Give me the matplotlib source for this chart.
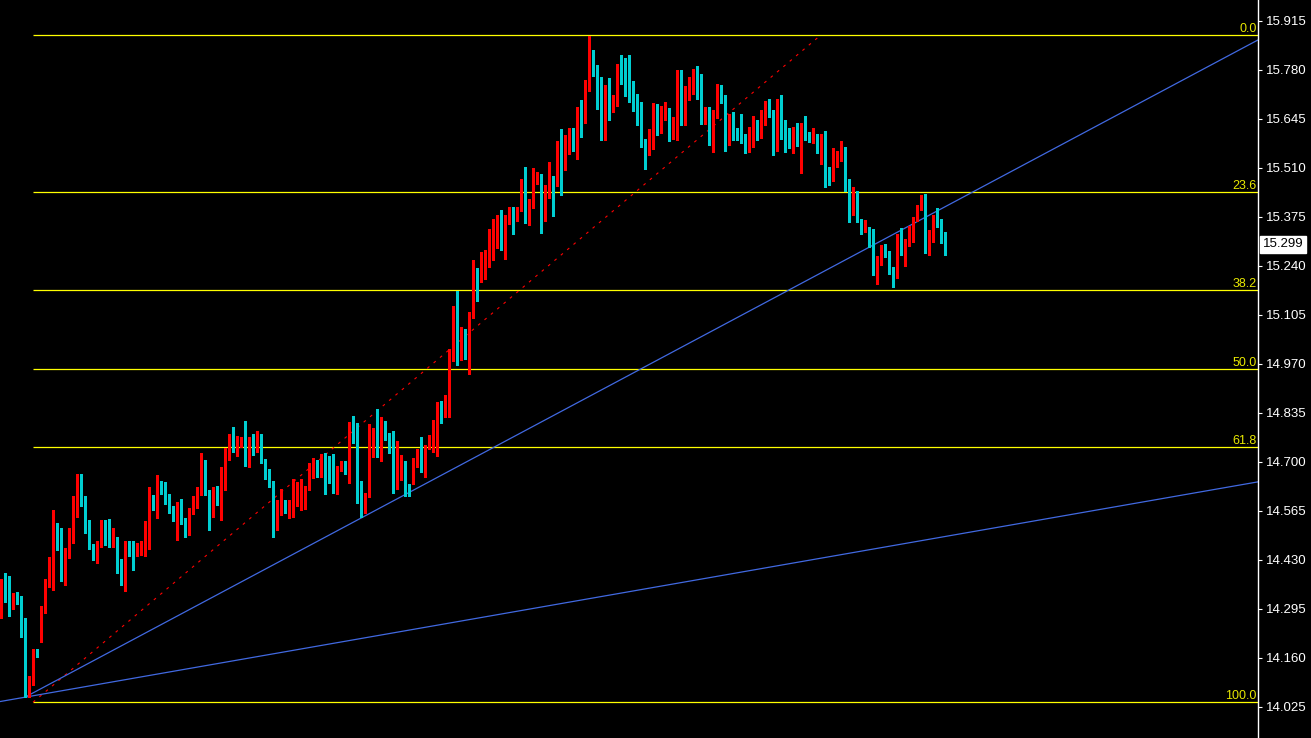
import numpy as np
import matplotlib
matplotlib.use("Agg")
import matplotlib.pyplot as plt
import matplotlib.transforms as mtransforms

# OHLC values (one entry per bar, left to right)
opens = [
    14.313, 14.351, 14.354, 14.315, 14.333, 14.323, 14.257, 14.062, 14.097, 14.177,
    14.254, 14.287, 14.364, 14.372, 14.482, 14.479, 14.384, 14.443, 14.502, 14.557,
    14.639, 14.592, 14.523, 14.466, 14.463, 14.471, 14.504, 14.501, 14.479, 14.485,
    14.400, 14.361, 14.471, 14.460, 14.447, 14.457, 14.464, 14.508, 14.585, 14.581,
    14.636, 14.625, 14.601, 14.565, 14.540, 14.579, 14.534, 14.501, 14.559, 14.590,
    14.612, 14.694, 14.614, 14.551, 14.609, 14.587, 14.658, 14.730, 14.755, 14.741,
    14.744, 14.760, 14.698, 14.747, 14.741, 14.749, 14.702, 14.661, 14.636, 14.515,
    14.556, 14.587, 14.570, 14.573, 14.581, 14.612, 14.617, 14.628, 14.658, 14.686,
    14.661, 14.716, 14.696, 14.650, 14.623, 14.680, 14.686, 14.672, 14.779, 14.757,
    14.595, 14.584, 14.607, 14.749, 14.782, 14.724, 14.785, 14.773, 14.760, 14.635,
    14.665, 14.686, 14.634, 14.667, 14.707, 14.727, 14.680, 14.740, 14.749, 14.797,
    14.855, 14.849, 14.860, 15.005, 15.110, 15.000, 15.025, 14.990, 15.097, 15.228,
    15.212, 15.226, 15.245, 15.314, 15.336, 15.372, 15.306, 15.372, 15.399, 15.391,
    15.394, 15.446, 15.396, 15.402, 15.474, 15.482, 15.380, 15.435, 15.474, 15.463,
    15.559, 15.507, 15.562, 15.614, 15.595, 15.655, 15.642, 15.732, 15.821, 15.776,
    15.702, 15.597, 15.716, 15.672, 15.732, 15.771, 15.763, 15.763, 15.724, 15.702,
    15.655, 15.581, 15.562, 15.606, 15.666, 15.622, 15.655, 15.669, 15.603, 15.622,
    15.738, 15.683, 15.721, 15.727, 15.741, 15.727, 15.666, 15.675, 15.592, 15.653,
    15.719, 15.699, 15.581, 15.653, 15.609, 15.609, 15.589, 15.578, 15.597, 15.628,
    15.609, 15.644, 15.683, 15.661, 15.562, 15.694, 15.614, 15.611, 15.578, 15.589,
    15.573, 15.625, 15.597, 15.592, 15.600, 15.551, 15.592, 15.496, 15.476, 15.520,
    15.531, 15.559, 15.471, 15.402, 15.427, 15.366, 15.336, 15.344, 15.325, 15.239,
    15.245, 15.297, 15.270, 15.223, 15.212, 15.308, 15.275, 15.300, 15.336, 15.366,
    15.399, 15.410, 15.300, 15.319, 15.369, 15.358, 15.328,
]
highs = [
    14.377, 14.394, 14.386, 14.340, 14.341, 14.331, 14.270, 14.110, 14.185, 14.185,
    14.304, 14.377, 14.437, 14.567, 14.532, 14.518, 14.463, 14.518, 14.606, 14.667,
    14.667, 14.606, 14.540, 14.474, 14.482, 14.540, 14.540, 14.543, 14.518, 14.494,
    14.432, 14.482, 14.482, 14.482, 14.477, 14.482, 14.537, 14.632, 14.610, 14.664,
    14.647, 14.645, 14.612, 14.578, 14.590, 14.598, 14.545, 14.573, 14.606, 14.631,
    14.724, 14.705, 14.623, 14.631, 14.634, 14.686, 14.738, 14.777, 14.796, 14.771,
    14.769, 14.813, 14.769, 14.777, 14.785, 14.777, 14.708, 14.680, 14.647, 14.595,
    14.625, 14.595, 14.595, 14.653, 14.645, 14.653, 14.634, 14.697, 14.711, 14.705,
    14.722, 14.725, 14.716, 14.722, 14.689, 14.702, 14.702, 14.810, 14.826, 14.807,
    14.648, 14.614, 14.804, 14.794, 14.846, 14.823, 14.812, 14.780, 14.784, 14.758,
    14.719, 14.702, 14.639, 14.711, 14.736, 14.769, 14.747, 14.774, 14.815, 14.865,
    14.868, 14.884, 15.012, 15.129, 15.171, 15.071, 15.066, 15.114, 15.256, 15.234,
    15.278, 15.284, 15.341, 15.369, 15.380, 15.394, 15.380, 15.402, 15.402, 15.402,
    15.479, 15.512, 15.424, 15.509, 15.498, 15.493, 15.463, 15.526, 15.487, 15.584,
    15.617, 15.600, 15.620, 15.620, 15.677, 15.697, 15.752, 15.873, 15.834, 15.793,
    15.760, 15.738, 15.757, 15.710, 15.796, 15.821, 15.812, 15.821, 15.749, 15.713,
    15.691, 15.589, 15.617, 15.688, 15.686, 15.680, 15.691, 15.675, 15.650, 15.779,
    15.779, 15.735, 15.760, 15.782, 15.790, 15.768, 15.677, 15.677, 15.669, 15.741,
    15.738, 15.710, 15.658, 15.664, 15.620, 15.658, 15.603, 15.622, 15.653, 15.642,
    15.669, 15.694, 15.699, 15.669, 15.699, 15.710, 15.642, 15.620, 15.622, 15.633,
    15.633, 15.653, 15.608, 15.620, 15.603, 15.603, 15.611, 15.512, 15.564, 15.556,
    15.584, 15.567, 15.479, 15.457, 15.446, 15.369, 15.366, 15.347, 15.341, 15.267,
    15.297, 15.300, 15.281, 15.237, 15.328, 15.344, 15.314, 15.350, 15.374, 15.407,
    15.435, 15.438, 15.339, 15.380, 15.399, 15.369, 15.333,
]
lows = [
    14.271, 14.313, 14.276, 14.296, 14.310, 14.219, 14.053, 14.053, 14.086, 14.163,
    14.204, 14.285, 14.355, 14.347, 14.457, 14.373, 14.361, 14.435, 14.477, 14.548,
    14.579, 14.505, 14.460, 14.430, 14.422, 14.466, 14.471, 14.466, 14.466, 14.393,
    14.361, 14.345, 14.441, 14.402, 14.441, 14.444, 14.441, 14.461, 14.568, 14.546,
    14.612, 14.584, 14.559, 14.537, 14.485, 14.529, 14.493, 14.499, 14.557, 14.573,
    14.609, 14.609, 14.512, 14.548, 14.581, 14.540, 14.623, 14.705, 14.727, 14.716,
    14.741, 14.689, 14.686, 14.719, 14.727, 14.697, 14.653, 14.631, 14.493, 14.512,
    14.554, 14.559, 14.545, 14.548, 14.579, 14.567, 14.570, 14.623, 14.656, 14.658,
    14.658, 14.612, 14.643, 14.615, 14.611, 14.676, 14.667, 14.643, 14.751, 14.588,
    14.549, 14.558, 14.604, 14.713, 14.713, 14.703, 14.760, 14.724, 14.614, 14.626,
    14.650, 14.606, 14.606, 14.639, 14.687, 14.673, 14.659, 14.735, 14.727, 14.717,
    14.807, 14.824, 14.824, 14.978, 14.967, 14.981, 14.983, 14.942, 15.096, 15.143,
    15.195, 15.204, 15.237, 15.256, 15.289, 15.284, 15.259, 15.355, 15.328, 15.363,
    15.391, 15.358, 15.352, 15.399, 15.465, 15.330, 15.363, 15.427, 15.377, 15.460,
    15.436, 15.504, 15.548, 15.556, 15.534, 15.595, 15.633, 15.721, 15.763, 15.672,
    15.586, 15.586, 15.642, 15.664, 15.680, 15.741, 15.708, 15.691, 15.666, 15.628,
    15.567, 15.507, 15.545, 15.562, 15.600, 15.606, 15.642, 15.584, 15.589, 15.586,
    15.628, 15.628, 15.697, 15.713, 15.699, 15.631, 15.631, 15.573, 15.553, 15.647,
    15.688, 15.556, 15.573, 15.586, 15.586, 15.578, 15.551, 15.553, 15.567, 15.586,
    15.592, 15.628, 15.650, 15.545, 15.556, 15.589, 15.553, 15.564, 15.551, 15.570,
    15.496, 15.586, 15.581, 15.578, 15.551, 15.520, 15.457, 15.463, 15.474, 15.512,
    15.529, 15.446, 15.361, 15.380, 15.361, 15.328, 15.333, 15.292, 15.215, 15.190,
    15.242, 15.264, 15.217, 15.182, 15.206, 15.270, 15.239, 15.295, 15.306, 15.363,
    15.394, 15.275, 15.270, 15.306, 15.347, 15.303, 15.270,
]
closes = [
    14.354, 14.345, 14.314, 14.333, 14.320, 14.254, 14.058, 14.102, 14.174, 14.172,
    14.289, 14.364, 14.372, 14.504, 14.475, 14.384, 14.449, 14.504, 14.559, 14.636,
    14.588, 14.521, 14.464, 14.461, 14.477, 14.504, 14.496, 14.479, 14.486, 14.397,
    14.364, 14.474, 14.455, 14.449, 14.460, 14.468, 14.512, 14.579, 14.579, 14.642,
    14.617, 14.598, 14.563, 14.540, 14.576, 14.532, 14.499, 14.562, 14.592, 14.614,
    14.697, 14.612, 14.554, 14.609, 14.587, 14.658, 14.730, 14.752, 14.741, 14.747,
    14.758, 14.694, 14.747, 14.741, 14.749, 14.702, 14.658, 14.634, 14.515, 14.559,
    14.590, 14.562, 14.576, 14.587, 14.612, 14.617, 14.628, 14.664, 14.686, 14.661,
    14.716, 14.691, 14.648, 14.621, 14.680, 14.685, 14.672, 14.782, 14.755, 14.595,
    14.584, 14.612, 14.753, 14.791, 14.724, 14.791, 14.767, 14.758, 14.634, 14.667,
    14.689, 14.632, 14.629, 14.708, 14.727, 14.680, 14.740, 14.749, 14.774, 14.851,
    14.849, 14.866, 15.005, 15.107, 15.000, 15.027, 14.990, 15.102, 15.226, 15.210,
    15.226, 15.250, 15.317, 15.339, 15.374, 15.303, 15.372, 15.396, 15.388, 15.396,
    15.443, 15.396, 15.402, 15.474, 15.493, 15.380, 15.435, 15.471, 15.463, 15.559,
    15.504, 15.567, 15.614, 15.595, 15.653, 15.642, 15.735, 15.823, 15.771, 15.699,
    15.597, 15.719, 15.672, 15.699, 15.771, 15.760, 15.757, 15.719, 15.699, 15.653,
    15.578, 15.562, 15.609, 15.664, 15.622, 15.661, 15.672, 15.600, 15.625, 15.741,
    15.683, 15.724, 15.730, 15.738, 15.727, 15.664, 15.675, 15.592, 15.655, 15.721,
    15.699, 15.578, 15.650, 15.606, 15.597, 15.586, 15.575, 15.603, 15.630, 15.609,
    15.650, 15.683, 15.661, 15.562, 15.691, 15.611, 15.609, 15.581, 15.589, 15.573,
    15.625, 15.592, 15.592, 15.597, 15.553, 15.592, 15.490, 15.479, 15.523, 15.534,
    15.559, 15.474, 15.402, 15.427, 15.363, 15.339, 15.341, 15.319, 15.242, 15.245,
    15.295, 15.270, 15.220, 15.212, 15.311, 15.272, 15.297, 15.336, 15.369, 15.405,
    15.410, 15.300, 15.319, 15.372, 15.355, 15.328, 15.299,
]

# Fibonacci retracement
fib_high = 15.876
fib_low = 14.038
fib_ratios = [0.0, 23.6, 38.2, 50.0, 61.8, 100.0]
fib_start_bar = 8
fib_end_bar = 205

# fan lines (anchor at the swing low)
fan_anchor_bar = 6
fan_anchor_price = 14.052
fan_ref_bar = 314.25
steep_ref_price = 15.862
shallow_ref_price = 14.645

# price scale
y_ticks = [14.025, 14.160, 14.295, 14.430, 14.565, 14.700, 14.835,
           14.970, 15.105, 15.240, 15.375, 15.510, 15.645, 15.780, 15.915]
last_price = closes[-1]

BULL = '#FF0000'
BEAR = '#00CED1'

fig = plt.figure(figsize=(13.11, 7.38), dpi=100, facecolor='black')
ax = fig.add_axes([0, 0, 1258 / 1311, 1], facecolor='black')

o = np.array(opens)
h = np.array(highs)
l = np.array(lows)
c = np.array(closes)
x = np.arange(len(c))
colors = np.where(c >= o, BULL, BEAR)

ax.vlines(x, l, h, colors=colors, linewidth=0.75, antialiased=False, zorder=3)
body_low = np.minimum(o, c)
body_h = np.maximum(np.abs(c - o), 0.0028)
ax.bar(x, body_h, bottom=body_low, width=0.75, color=colors,
       linewidth=0, antialiased=False, zorder=4)

xmin, xmax = -0.25, 314.25

# fib levels
for r in fib_ratios:
    lvl = fib_high - (fib_high - fib_low) * r / 100.0
    ax.hlines(lvl, fib_start_bar, xmax, colors='#FFFF00', linewidth=0.9, zorder=2)
    ax.annotate('%.1f' % r, xy=(1.0, lvl),
                xycoords=mtransforms.blended_transform_factory(ax.transAxes, ax.transData),
                xytext=(-1, 0), textcoords='offset points', ha='right', va='bottom',
                color='#E8E800', fontsize=9, family='Liberation Sans')

# fib trend line (red dotted)
ax.plot([fib_start_bar, fib_end_bar], [fib_low, fib_high], color='#FF0000',
        linewidth=0.8, linestyle=(0, (2.5, 5)), zorder=2)

# fan lines
steep_slope = (steep_ref_price - fan_anchor_price) / (fan_ref_bar - fan_anchor_bar)
shallow_slope = (shallow_ref_price - fan_anchor_price) / (fan_ref_bar - fan_anchor_bar)
ax.plot([fan_anchor_bar, xmax],
        [fan_anchor_price, fan_anchor_price + steep_slope * (xmax - fan_anchor_bar)],
        color='#4169E1', linewidth=0.9, zorder=2)
ax.plot([xmin, xmax],
        [fan_anchor_price + shallow_slope * (xmin - fan_anchor_bar),
         fan_anchor_price + shallow_slope * (xmax - fan_anchor_bar)],
        color='#4169E1', linewidth=0.9, zorder=2)

ax.set_xlim(xmin, xmax)
ax.set_ylim(13.9396, 15.972)

# axes styling
for side in ['top', 'bottom', 'left']:
    ax.spines[side].set_visible(False)
ax.spines['right'].set_color('white')
ax.spines['right'].set_linewidth(1)
ax.set_xticks([])
ax.yaxis.tick_right()
ax.set_yticks(y_ticks)
ax.set_yticklabels(['%.3f' % t for t in y_ticks])
ax.tick_params(axis='y', colors='white', length=3, width=0.8, pad=3,
               labelsize=9.5, direction='out')
for lab in ax.get_yticklabels():
    lab.set_family('Liberation Sans')

# last price marker
ax.text(1.0 + 5 / 1258, last_price, '%.3f' % last_price,
        transform=mtransforms.blended_transform_factory(ax.transAxes, ax.transData),
        ha='left', va='center', color='black', fontsize=9.5, family='Liberation Sans',
        bbox=dict(boxstyle='square,pad=0.2', fc='white', ec='white'), zorder=10,
        clip_on=False)

fig.savefig('out.png', dpi=100, facecolor='black')
